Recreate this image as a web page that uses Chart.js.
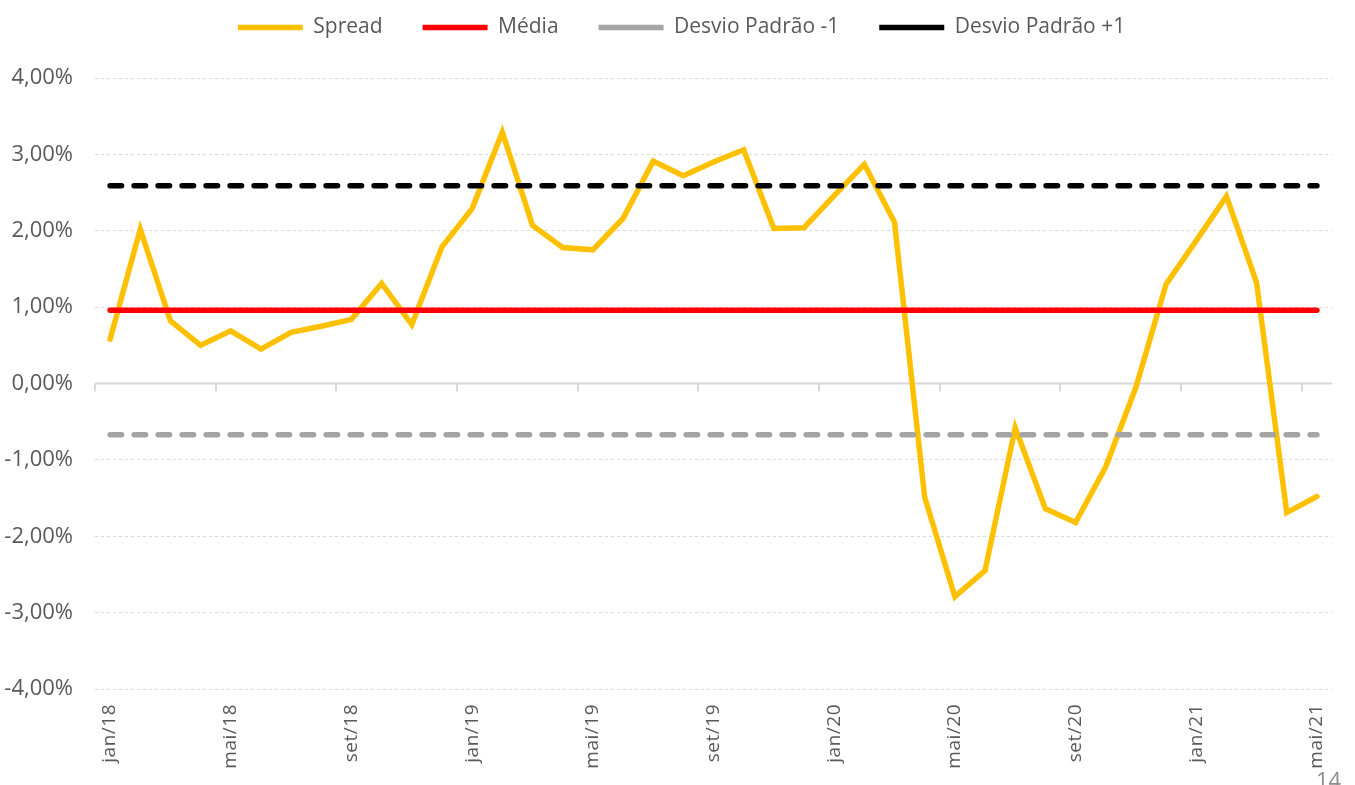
<!DOCTYPE html>
<html>
<head>
<meta charset="utf-8">
<script src="https://cdn.jsdelivr.net/npm/chart.js@4.4.1/dist/chart.umd.min.js"></script>
<style>
  html, body { margin: 0; padding: 0; background: #ffffff; overflow: hidden; }
  #wrap { position: relative; width: 1355px; height: 785px; overflow: hidden; }
  #pg { position: absolute; left: 1316px; top: 768px; font-family: 'Open Sans', sans-serif; font-size: 22px; color: #8c8c8c; line-height: 1; }
</style>
</head>
<body>
<div id="wrap">
  <canvas id="c" width="1355" height="785"></canvas>
  <div id="pg">14</div>
</div>
<script>
const categories = [
  'jan/18','fev/18','mar/18','abr/18','mai/18','jun/18','jul/18','ago/18','set/18','out/18','nov/18','dez/18',
  'jan/19','fev/19','mar/19','abr/19','mai/19','jun/19','jul/19','ago/19','set/19','out/19','nov/19','dez/19',
  'jan/20','fev/20','mar/20','abr/20','mai/20','jun/20','jul/20','ago/20','set/20','out/20','nov/20','dez/20',
  'jan/21','fev/21','mar/21','abr/21','mai/21'
];
const spread = [
  0.58, 2.02, 0.82, 0.50, 0.69, 0.45, 0.67, 0.75, 0.84, 1.31, 0.77, 1.79,
  2.29, 3.29, 2.07, 1.78, 1.75, 2.16, 2.91, 2.72, 2.90, 3.06, 2.03, 2.04,
  2.46, 2.87, 2.11, -1.49, -2.79, -2.45, -0.58, -1.64, -1.82, -1.09, -0.05, 1.30,
  1.87, 2.45, 1.32, -1.69, -1.48
];
const mediaValue = 0.96;
const desvioMenos1Value = -0.67;
const desvioMais1Value = 2.59;
const media = categories.map(() => mediaValue);
const desvioMenos1 = categories.map(() => desvioMenos1Value);
const desvioMais1 = categories.map(() => desvioMais1Value);
const seriesNames = ['Spread', 'Média', 'Desvio Padrão -1', 'Desvio Padrão +1'];
const yTicks = [-4, -3, -2, -1, 0, 1, 2, 3, 4];
const labelEvery = 4;

Chart.defaults.font.family = "'Open Sans', sans-serif";
Chart.defaults.color = '#595959';

const axisExtras = {
  id: 'axisExtras',
  beforeInit(chart) {
    const lg = chart.legend;
    if (lg) {
      const fit = lg.fit;
      lg.fit = function () {
        fit.call(this);
        this.height = 101;
        if (this.lineWidths && this.lineWidths.length) this.lineWidths[0] -= 30;
      };
    }
  },
  beforeDatasetsDraw(chart) {
    const ctx = chart.ctx, x = chart.scales.x, y = chart.scales.y, a = chart.chartArea;
    const y0 = y.getPixelForValue(0);
    const half = (x.getPixelForValue(1) - x.getPixelForValue(0)) / 2;
    ctx.save();
    ctx.strokeStyle = '#d9d9d9';
    ctx.lineWidth = 2;
    ctx.beginPath();
    ctx.moveTo(a.left, y0);
    ctx.lineTo(a.right, y0);
    for (let i = 0; i < categories.length; i += labelEvery) {
      const px = Math.round(x.getPixelForValue(i) - half);
      ctx.moveTo(px, y0);
      ctx.lineTo(px, y0 + 8);
    }
    ctx.stroke();
    ctx.restore();
  },
  afterUpdate(chart) {
    const s = chart.scales.x;
    if (s && !s._lsWrapped) {
      const orig = s.drawLabels.bind(s);
      s.drawLabels = function (ca) {
        const ctx = this.ctx;
        ctx.save();
        try { ctx.letterSpacing = '0.5px'; } catch (e) {}
        orig(ca);
        ctx.restore();
      };
      s._lsWrapped = true;
    }
  }
};

const common = { pointRadius: 0, pointHoverRadius: 0, pointStyle: 'line', borderWidth: 5.5, borderCapStyle: 'round', fill: false, tension: 0 };

new Chart(document.getElementById('c'), {
  type: 'line',
  data: {
    labels: categories,
    datasets: [
      Object.assign({}, common, { label: seriesNames[0], data: spread, borderColor: '#FFC000', backgroundColor: '#FFC000', order: 1 }),
      Object.assign({}, common, { label: seriesNames[1], data: media, borderColor: '#FF0000', backgroundColor: '#FF0000', order: 0 }),
      Object.assign({}, common, { label: seriesNames[2], data: desvioMenos1, borderColor: '#A5A5A5', backgroundColor: '#A5A5A5', borderDash: [11.5, 12.5], order: 0 }),
      Object.assign({}, common, { label: seriesNames[3], data: desvioMais1, borderColor: '#000000', backgroundColor: '#000000', borderDash: [11.5, 12.5], order: 0 })
    ]
  },
  options: {
    responsive: false,
    animation: false,
    devicePixelRatio: 1,
    layout: { padding: { top: -23, right: 22, left: 0, bottom: 0 } },
    plugins: {
      tooltip: { enabled: false },
      legend: {
        position: 'top',
        labels: {
          usePointStyle: true,
          pointStyleWidth: 65,
          padding: 40,
          color: '#595959',
          font: { size: 21 },
          sort: (a, b) => a.datasetIndex - b.datasetIndex
        }
      }
    },
    scales: {
      x: {
        type: 'category',
        offset: true,
        grid: { display: false, drawTicks: false },
        border: { display: false },
        ticks: {
          autoSkip: false,
          maxRotation: 90,
          minRotation: 90,
          padding: 15,
          color: '#595959',
          font: { size: 19 },
          callback: function (v, i) { return i % labelEvery === 0 ? categories[i] : ''; }
        },
        afterFit(s) { s.height = 96; }
      },
      y: {
        min: yTicks[0],
        max: yTicks[yTicks.length - 1],
        afterBuildTicks(s) { s.ticks = yTicks.map(v => ({ value: v })); },
        grid: { color: '#d9d9d9', lineWidth: 1, drawTicks: false },
        border: { display: false, dash: [3, 3] },
        ticks: {
          padding: 22,
          color: '#595959',
          font: { size: 22 },
          callback: v => v.toFixed(2).replace('.', ',') + '%'
        },
        afterFit(s) { s.width = 95; }
      }
    }
  },
  plugins: [axisExtras]
});
</script>
</body>
</html>
